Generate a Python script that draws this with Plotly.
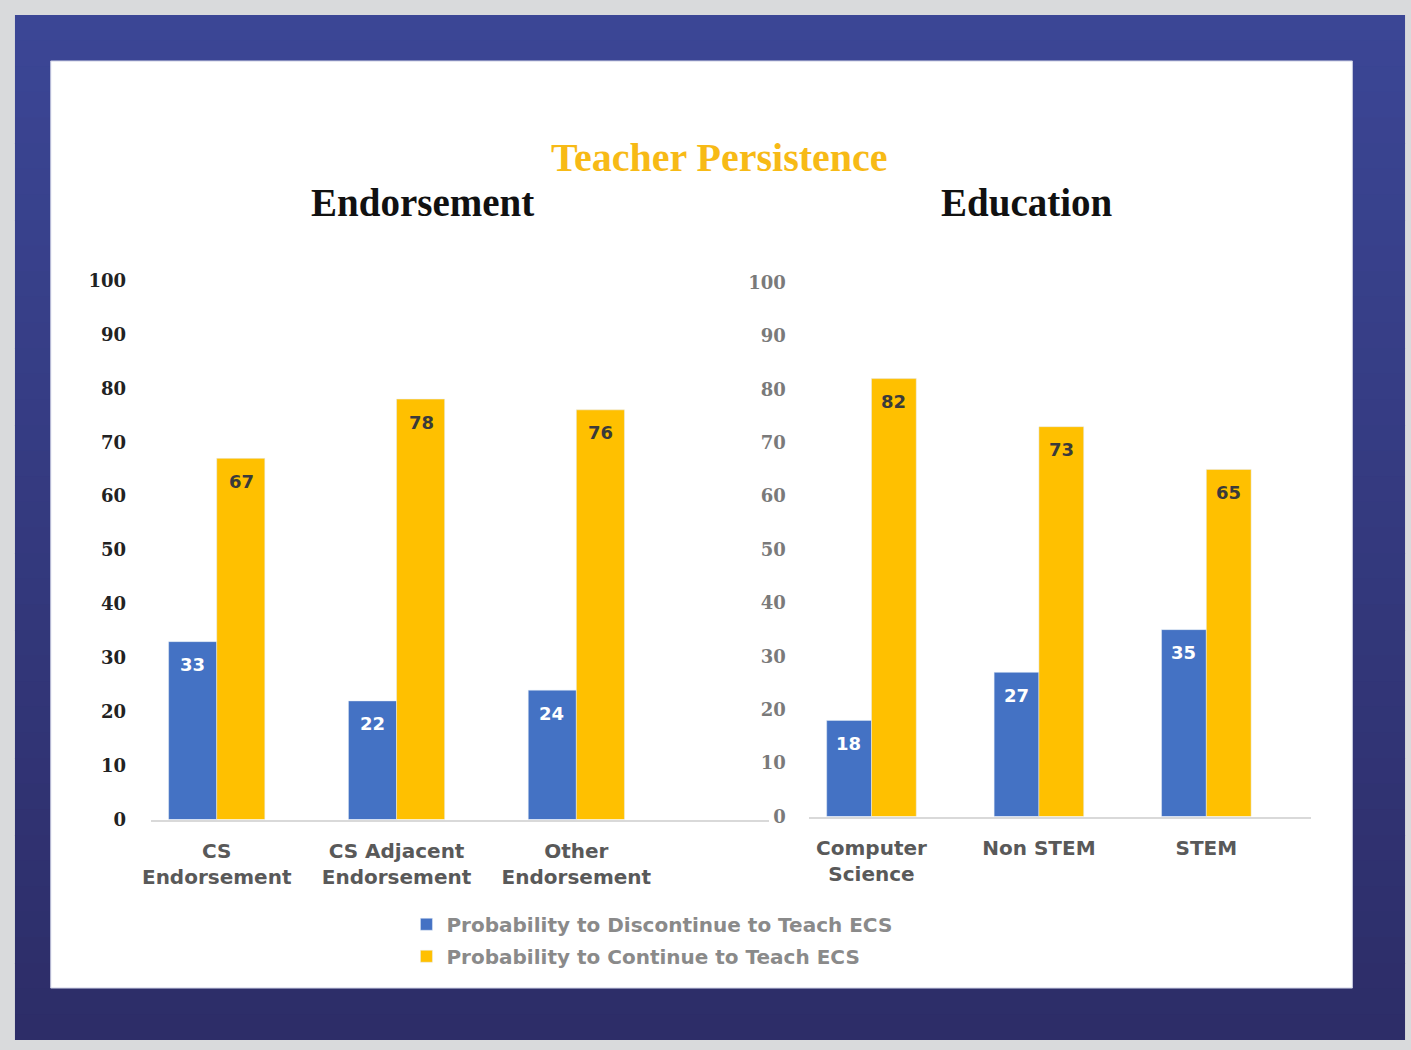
import plotly.graph_objects as go

# ---- data ----
endorse_cats = ["CS<br>Endorsement", "CS Adjacent<br>Endorsement", "Other<br>Endorsement"]
endorse_discontinue = [33, 22, 24]
endorse_continue = [67, 78, 76]

edu_cats = ["Computer<br>Science", "Non STEM", "STEM"]
edu_discontinue = [18, 27, 35]
edu_continue = [82, 73, 65]

y_ticks = [0, 10, 20, 30, 40, 50, 60, 70, 80, 90, 100]

series_names = ["Probability to Discontinue to Teach ECS", "Probability to Continue to Teach ECS"]

# ---- layout geometry (pixel positions converted to paper fractions) ----
W, H = 1411, 1050

BLUE = "#4472C4"
GOLD = "#FFC000"
SANS_B = "DejaVu Sans"
SERIF = "Liberation Serif"


def px(x):
    return x / W


def py(y):
    return 1 - y / H


def clamp(v):
    return max(0.0, min(1.0, v))


fig = go.Figure()

panels = [
    ("x", "y", endorse_cats, endorse_discontinue, endorse_continue, True),
    ("x2", "y2", edu_cats, edu_discontinue, edu_continue, False),
]
for xa, ya, cats, disc, cont, show in panels:
    fig.add_trace(go.Bar(
        x=cats, y=disc, name=series_names[0], marker_color=BLUE,
        xaxis=xa, yaxis=ya, showlegend=show, legendgroup="d",
        hoverinfo="x+y",
    ))
    fig.add_trace(go.Bar(
        x=cats, y=cont, name=series_names[1], marker_color=GOLD,
        xaxis=xa, yaxis=ya, showlegend=show, legendgroup="c",
        hoverinfo="x+y",
    ))

# value labels inside the top of each bar
annotations = []
for xa, ya, cats, disc, cont, half in [
    ("x", "y", endorse_cats, endorse_discontinue, endorse_continue, 24.5),
    ("x2", "y2", edu_cats, edu_discontinue, edu_continue, 22.5),
]:
    for c, v in zip(cats, disc):
        annotations.append(dict(
            x=c, y=v, xref=xa, yref=ya, text=str(v), showarrow=False,
            xanchor="center", yanchor="middle",
            xshift=-half, yshift=-23,
            font=dict(family=SANS_B, size=18, color="#ffffff", weight="bold"),
        ))
    for c, v in zip(cats, cont):
        annotations.append(dict(
            x=c, y=v, xref=xa, yref=ya, text=str(v), showarrow=False,
            xanchor="center", yanchor="middle",
            xshift=half, yshift=-23,
            font=dict(family=SANS_B, size=18, color="#3a3a3a", weight="bold"),
        ))

# titles
annotations += [
    dict(x=px(715), y=py(150), xref="paper", yref="paper", text="<b>Teacher Persistence</b>",
         showarrow=False, xanchor="center", yanchor="middle",
         font=dict(family=SERIF, size=40, color="#F7BA16")),
    dict(x=px(416), y=py(195), xref="paper", yref="paper", text="<b>Endorsement</b>",
         showarrow=False, xanchor="center", yanchor="middle",
         font=dict(family=SERIF, size=39, color="#111111")),
    dict(x=px(1025), y=py(195), xref="paper", yref="paper", text="<b>Education</b>",
         showarrow=False, xanchor="center", yanchor="middle",
         font=dict(family=SERIF, size=39, color="#111111")),
]

# background: light frame, blue gradient band, white panel on top
shapes = []
top_rgb = (59, 70, 149)
bot_rgb = (45, 45, 104)
n_bands = 40
y_start, y_end = 4, H
for i in range(n_bands):
    t = i / (n_bands - 1)
    r, g, b = [round(a + (bb - a) * t) for a, bb in zip(top_rgb, bot_rgb)]
    y0 = y_start + (y_end - y_start) * i / n_bands
    y1 = y_start + (y_end - y_start) * (i + 1) / n_bands + 1
    shapes.append(dict(type="rect", xref="paper", yref="paper",
                       x0=px(6), x1=px(1405),
                       y0=clamp(py(y1)), y1=clamp(py(y0)),
                       fillcolor=f"rgb({r},{g},{b})", line_width=0, layer="below"))
shapes.append(dict(type="rect", xref="paper", yref="paper", x0=px(42), x1=px(1352), y0=py(997), y1=py(51),
                   fillcolor="#ffffff", line=dict(color="#c9cce2", width=1), layer="below"))

axis_common = dict(showgrid=False, zeroline=False, fixedrange=True)

fig.update_layout(
    width=W, height=H,
    margin=dict(l=0, r=0, t=0, b=0),
    paper_bgcolor="#d9dadc",
    plot_bgcolor="rgba(0,0,0,0)",
    barmode="group",
    bargap=0.465,
    bargroupgap=0,
    shapes=shapes,
    annotations=annotations,
    xaxis=dict(domain=[px(143), px(765)], range=[-0.365, 3.072], anchor="y",
               showline=True, linecolor="#d9d9d9", linewidth=2, ticks="",
               ticklabelstandoff=12,
               tickfont=dict(family=SANS_B, size=20, color="#595959", weight="bold"),
               **axis_common),
    yaxis=dict(domain=[py(825), py(275)], range=[0, 100], anchor="x",
               tickvals=y_ticks, ticks="", showline=False, ticklabelstandoff=24,
               tickfont=dict(family="DejaVu Serif", size=18, color="#222222", weight="bold"),
               **axis_common),
    xaxis2=dict(domain=[px(805), px(1310)], range=[-0.374, 2.623], anchor="y2",
                showline=True, linecolor="#d9d9d9", linewidth=2, ticks="",
                ticklabelstandoff=12,
                tickfont=dict(family=SANS_B, size=20, color="#595959", weight="bold"),
                **axis_common),
    yaxis2=dict(domain=[py(822), py(277)], range=[0, 100], anchor="x2",
                tickvals=y_ticks, ticks="", showline=False, ticklabelstandoff=22,
                tickfont=dict(family="DejaVu Serif", size=18, color="#7a7a7a", weight="bold"),
                **axis_common),
    legend=dict(x=px(400), y=py(912), xanchor="left", yanchor="top",
                orientation="v", tracegroupgap=3, bgcolor="rgba(0,0,0,0)",
                font=dict(family=SANS_B, size=20, color="#8a8a8a", weight="bold")),
    showlegend=True,
)

fig.write_html("out.html")
